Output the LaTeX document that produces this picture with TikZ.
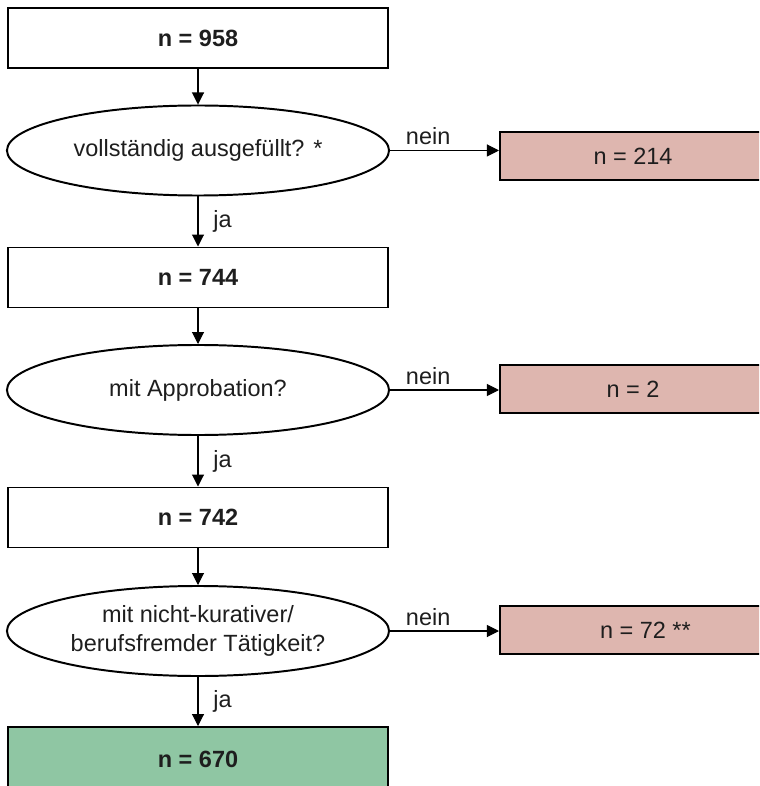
\documentclass[tikz,border=0pt]{standalone}
\usepackage{fontspec}
\setmainfont{Liberation Sans}
\usepackage{tikz}
\usetikzlibrary{shapes.geometric, arrows.meta, positioning}
\definecolor{excluded}{RGB}{222, 182, 175}
\definecolor{included}{RGB}{143, 198, 163}
\definecolor{textgray}{RGB}{30, 30, 30}

\begin{document}
\begin{tikzpicture}[
    x=0.025cm, y=-0.025cm,
    every node/.style={font=\fontsize{16.7}{20.6}\selectfont, text=textgray},
    count/.style={draw, line width=1.4pt, fill=white, minimum width=9.5cm, minimum height=1.5cm, font=\fontsize{16.7}{20.6}\selectfont\bfseries},
    question/.style={draw, ellipse, line width=1.4pt, inner sep=0pt, minimum width=9.55cm, minimum height=2.25cm, align=center},
    dropout/.style={draw, line width=1.4pt, fill=excluded, minimum width=7.5cm, minimum height=1.2cm},
    flow/.style={-{Triangle[length=0.3cm, width=0.3cm]}, line width=0.75pt},
    yes/.style={midway, right=0.37cm, inner sep=0pt},
    no/.style={pos=0.35, above=0.12cm, inner sep=0pt}
]
    % Frame of the picture (boxes run off the edge)
    \useasboundingbox (0,0) rectangle (759,786);
    \clip (0,0) rectangle (759,786);

    % Main column
    \node[count] (n958) at (198, 38) {n = 958};
    \node[question] (q1) at (198, 150.5) {vollständig ausgefüllt? *};
    \node[count] (n744) at (198, 277.5) {n = 744};
    \node[question] (q2) at (198, 390) {mit Approbation?};
    \node[count] (n742) at (198, 517.5) {n = 742};
    \node[question] (q3) at (198, 631) {mit nicht-kurativer/\\berufsfremder Tätigkeit?};
    \node[count, fill=included, minimum height=1.6cm] (n670) at (198, 759) {n = 670};

    % Excluded cases (cut off at the right edge)
    \node[dropout] (d1) at (650, 156) {n = 214\makebox[0.85cm]{}};
    \node[dropout] (d2) at (650, 389) {n = 2\makebox[0.85cm]{}};
    \node[dropout] (d3) at (650, 630) {n = 72\rlap{ **}\makebox[0.85cm]{}};

    % Arrows down
    \draw[flow] (n958) -- (q1);
    \draw[flow] (q1) -- node[yes] {ja} (n744);
    \draw[flow] (n744) -- (q2);
    \draw[flow] (q2) -- node[yes] {ja} (n742);
    \draw[flow] (n742) -- (q3);
    \draw[flow] (q3) -- node[yes] {ja} (n670);

    % Arrows to the right
    \draw[flow] (q1.east) -- node[no] {nein} (q1.east -| d1.west);
    \draw[flow] (q2.east) -- node[no] {nein} (q2.east -| d2.west);
    \draw[flow] (q3.east) -- node[no] {nein} (q3.east -| d3.west);

\end{tikzpicture}
\end{document}
